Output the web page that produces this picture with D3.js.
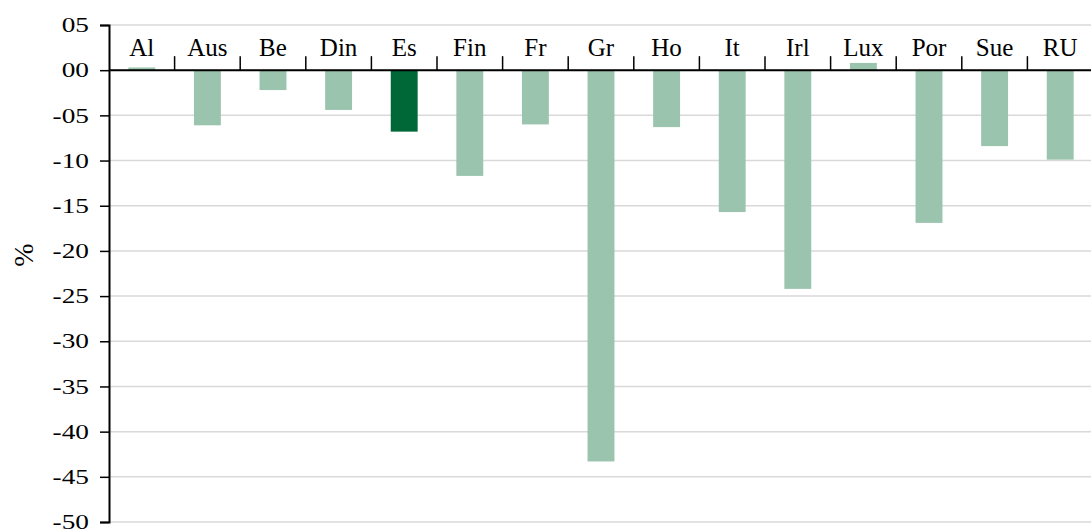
<!DOCTYPE html>
<html>
<head>
<meta charset="utf-8">
<script src="https://cdn.jsdelivr.net/npm/d3@7"></script>
<style>
  html, body { margin: 0; padding: 0; background: #fff; }
  svg { display: block; font-family: "Liberation Serif", "Times New Roman", serif; }
</style>
</head>
<body>
<svg id="chart" width="1091" height="530"></svg>
<script>
// Country codes along the top axis
const categories = ["Al", "Aus", "Be", "Din", "Es", "Fin", "Fr", "Gr", "Ho", "It", "Irl", "Lux", "Por", "Sue", "RU"];
// Change in %, one value per country
const values = [0.3, -6.1, -2.2, -4.4, -6.8, -11.7, -6.0, -43.3, -6.3, -15.7, -24.2, 0.8, -16.9, -8.4, -9.9];
// Highlighted country
const highlight = ["Es"];
// Y axis ticks and their printed labels
const yTicks = [5, 0, -5, -10, -15, -20, -25, -30, -35, -40, -45, -50];
const yTickLabels = ["05", "00", "-05", "-10", "-15", "-20", "-25", "-30", "-35", "-40", "-45", "-50"];
const yTitle = "%";

const W = 1091, H = 530;
const plotLeft = 109, plotTop = 25, plotBottom = 522;
const step = 65.6;
const plotRight = plotLeft + step * categories.length;

const svg = d3.select("#chart");

const x = d3.scaleBand()
  .domain(categories)
  .range([plotLeft, plotRight])
  .paddingInner(0.59)
  .paddingOuter(0.295);

const y = d3.scaleLinear()
  .domain([-50, 5])
  .range([plotBottom, plotTop]);

// Horizontal gridlines
svg.append("g")
  .selectAll("line")
  .data(yTicks)
  .join("line")
  .attr("x1", plotLeft)
  .attr("x2", W)
  .attr("y1", d => y(d))
  .attr("y2", d => y(d))
  .attr("stroke", "#d9d9d9")
  .attr("stroke-width", 1.5);

// Bars
svg.append("g")
  .selectAll("rect")
  .data(categories.map((c, i) => ({ c, v: values[i] })))
  .join("rect")
  .attr("x", d => x(d.c))
  .attr("width", x.bandwidth())
  .attr("y", d => y(Math.max(0, d.v)))
  .attr("height", d => Math.abs(y(d.v) - y(0)))
  .attr("fill", d => highlight.includes(d.c) ? "#006837" : "#9ac4ad");

// Y axis
const labelMap = new Map(yTicks.map((t, i) => [t, yTickLabels[i]]));
const yAxis = svg.append("g")
  .attr("transform", `translate(${plotLeft},0)`)
  .call(d3.axisLeft(y).tickValues(yTicks).tickSize(9).tickFormat(d => labelMap.get(d)));
yAxis.select(".domain").attr("stroke", "#000").attr("stroke-width", 2);
yAxis.selectAll(".tick line").attr("stroke", "#000").attr("stroke-width", 1.5);
yAxis.selectAll(".tick text")
  .attr("x", 0)
  .attr("transform", "translate(-20,0) scale(1.3,1)")
  .attr("font-family", "Liberation Serif")
  .attr("font-size", 21)
  .attr("fill", "#000");

// Zero line with category ticks above it and labels
const xAxis = svg.append("g")
  .attr("transform", `translate(0,${y(0)})`);
xAxis.append("line")
  .attr("x1", plotLeft)
  .attr("x2", W)
  .attr("stroke", "#000")
  .attr("stroke-width", 2);
xAxis.selectAll(".sep")
  .data(categories.slice(1))
  .join("line")
  .attr("class", "sep")
  .attr("x1", d => x(d) - x.step() * x.paddingInner() / 2)
  .attr("x2", d => x(d) - x.step() * x.paddingInner() / 2)
  .attr("y1", 0)
  .attr("y2", -14)
  .attr("stroke", "#000")
  .attr("stroke-width", 1.5);
xAxis.selectAll(".lbl")
  .data(categories)
  .join("text")
  .attr("class", "lbl")
  .attr("x", d => x(d) + x.bandwidth() / 2)
  .attr("y", -14)
  .attr("text-anchor", "middle")
  .attr("font-size", 25)
  .attr("fill", "#000")
  .text(d => d);

// Y axis title
svg.append("text")
  .attr("transform", `translate(33,255) rotate(-90)`)
  .attr("text-anchor", "middle")
  .attr("font-size", 28)
  .attr("fill", "#000")
  .text(yTitle);
</script>
</body>
</html>
